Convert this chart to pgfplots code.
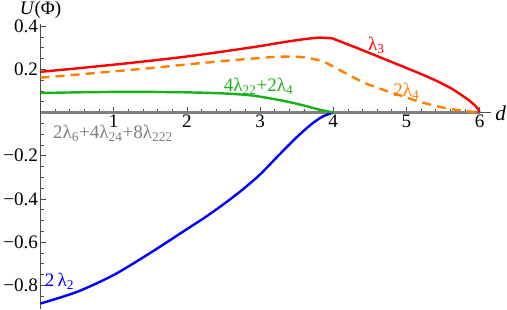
\documentclass[border=0pt]{standalone}
\usepackage{fontspec}
\setmainfont{Liberation Serif}
\usepackage{pgfplots}
\pgfplotsset{compat=1.18}
\definecolor{mred}{rgb}{1,0,0}
\definecolor{morange}{rgb}{1,0.5,0}
\definecolor{mgreen}{rgb}{0.1,0.7,0.1}
\definecolor{mblue}{rgb}{0,0,1}
\definecolor{mgray}{gray}{0.5}
\definecolor{axgray}{gray}{0.3}
\begin{document}
\begin{tikzpicture}
\begin{axis}[
  scale only axis, width=448pt, height=284pt,
  xmin=0, xmax=6.15, ymin=-0.91, ymax=0.41,
  axis lines=middle,
  axis line style={-, axgray, line width=0.7pt},
  every tick/.style={axgray, line width=0.6pt},
  xtick={1,2,3,4,5,6}, xticklabels={1,2,3,4,5,6},
  ytick={-0.8,-0.6,-0.4,-0.2,0.2,0.4},
  yticklabels={−0.8,−0.6,−0.4,−0.2,0.2,0.4},
  minor xtick={0.2,0.4,0.6,0.8,1.2,1.4,1.6,1.8,2.2,2.4,2.6,2.8,3.2,3.4,3.6,3.8,4.2,4.4,4.6,4.8,5.2,5.4,5.6,5.8},
  minor ytick={-0.85,-0.75,-0.7,-0.65,-0.55,-0.5,-0.45,-0.35,-0.3,-0.25,-0.15,-0.1,-0.05,0.05,0.1,0.15,0.25,0.3,0.35},
  tick align=inside,
  major tick length=5pt, minor tick length=3pt,
  tick label style={font=\fontsize{19}{21}\selectfont, text=black},
  xticklabel style={yshift=1pt},
  yticklabel style={xshift=1pt},
  clip=false,
]
% gray curve at zero
\addplot[mgray, line width=2.6pt] coordinates {(0,0) (6,0)};
% blue 2 lambda_2
\addplot[mblue, line width=2.4pt, smooth] coordinates {
(0,-0.884) (0.5,-0.83) (1,-0.752) (1.5,-0.65) (2,-0.54) (2.25,-0.485) (2.5,-0.425)
(2.75,-0.36) (3,-0.287) (3.25,-0.2) (3.5,-0.115) (3.7,-0.055) (3.85,-0.02) (4,0)};
% green
\addplot[mgreen, line width=2.4pt, smooth] coordinates {
(0,0.09) (0.5,0.093) (1,0.095) (1.5,0.095) (2,0.093) (2.5,0.088) (2.9,0.078)
(3.3,0.055) (3.6,0.032) (3.8,0.014) (4,0)};
% orange dashed
\addplot[morange, line width=2.4pt, smooth, dash pattern=on 9pt off 6pt] coordinates {
(0,0.161) (0.5,0.175) (1,0.19) (1.5,0.205) (2,0.222) (2.5,0.238) (3,0.252)
(3.3,0.258) (3.6,0.255) (3.87,0.234) (4.15,0.185) (4.42,0.138) (4.7,0.103)
(5.15,0.053) (5.4,0.03) (5.62,0.015) (5.85,0.005) (6,0)};
% red
\addplot[mred, line width=2.4pt, smooth, tension=0.4] coordinates {
(0,0.188) (0.5,0.204) (1,0.221) (1.5,0.239) (2,0.259) (2.5,0.282) (3,0.307)
(3.3,0.324) (3.6,0.339) (3.8,0.346) (3.95,0.344) (4.0,0.341) (4.35,0.295)
(4.7,0.247) (5.15,0.185) (5.4,0.148) (5.62,0.11) (5.84,0.06) (5.93,0.035)
(5.98,0.015) (6,0)};
% labels
\node[anchor=west, inner sep=1pt, font=\fontsize{21}{23}\selectfont] at (axis cs:6.2,-0.005) {\textit{d}};
\node[anchor=south, inner sep=1pt, font=\fontsize{19}{21}\selectfont] at (axis cs:0,0.43) {\textit{U}(Φ)};
\node[text=mred, font=\fontsize{19}{21}\selectfont] at (axis cs:4.59,0.31) {λ\textsubscript{3}};
\node[text=morange, font=\fontsize{19}{21}\selectfont] at (axis cs:5.0,0.098) {2λ\textsubscript{4}};
\node[text=mgreen, font=\fontsize{19}{21}\selectfont] at (axis cs:2.98,0.12) {4λ\textsubscript{22}+2λ\textsubscript{4}};
\node[text=mgray, font=\fontsize{19}{21}\selectfont] at (axis cs:0.99,-0.098) {2λ\textsubscript{6}+4λ\textsubscript{24}+8λ\textsubscript{222}};
\node[text=mblue, font=\fontsize{19}{21}\selectfont] at (axis cs:0.26,-0.78) {2\,λ\textsubscript{2}};
\end{axis}
\end{tikzpicture}
\end{document}
